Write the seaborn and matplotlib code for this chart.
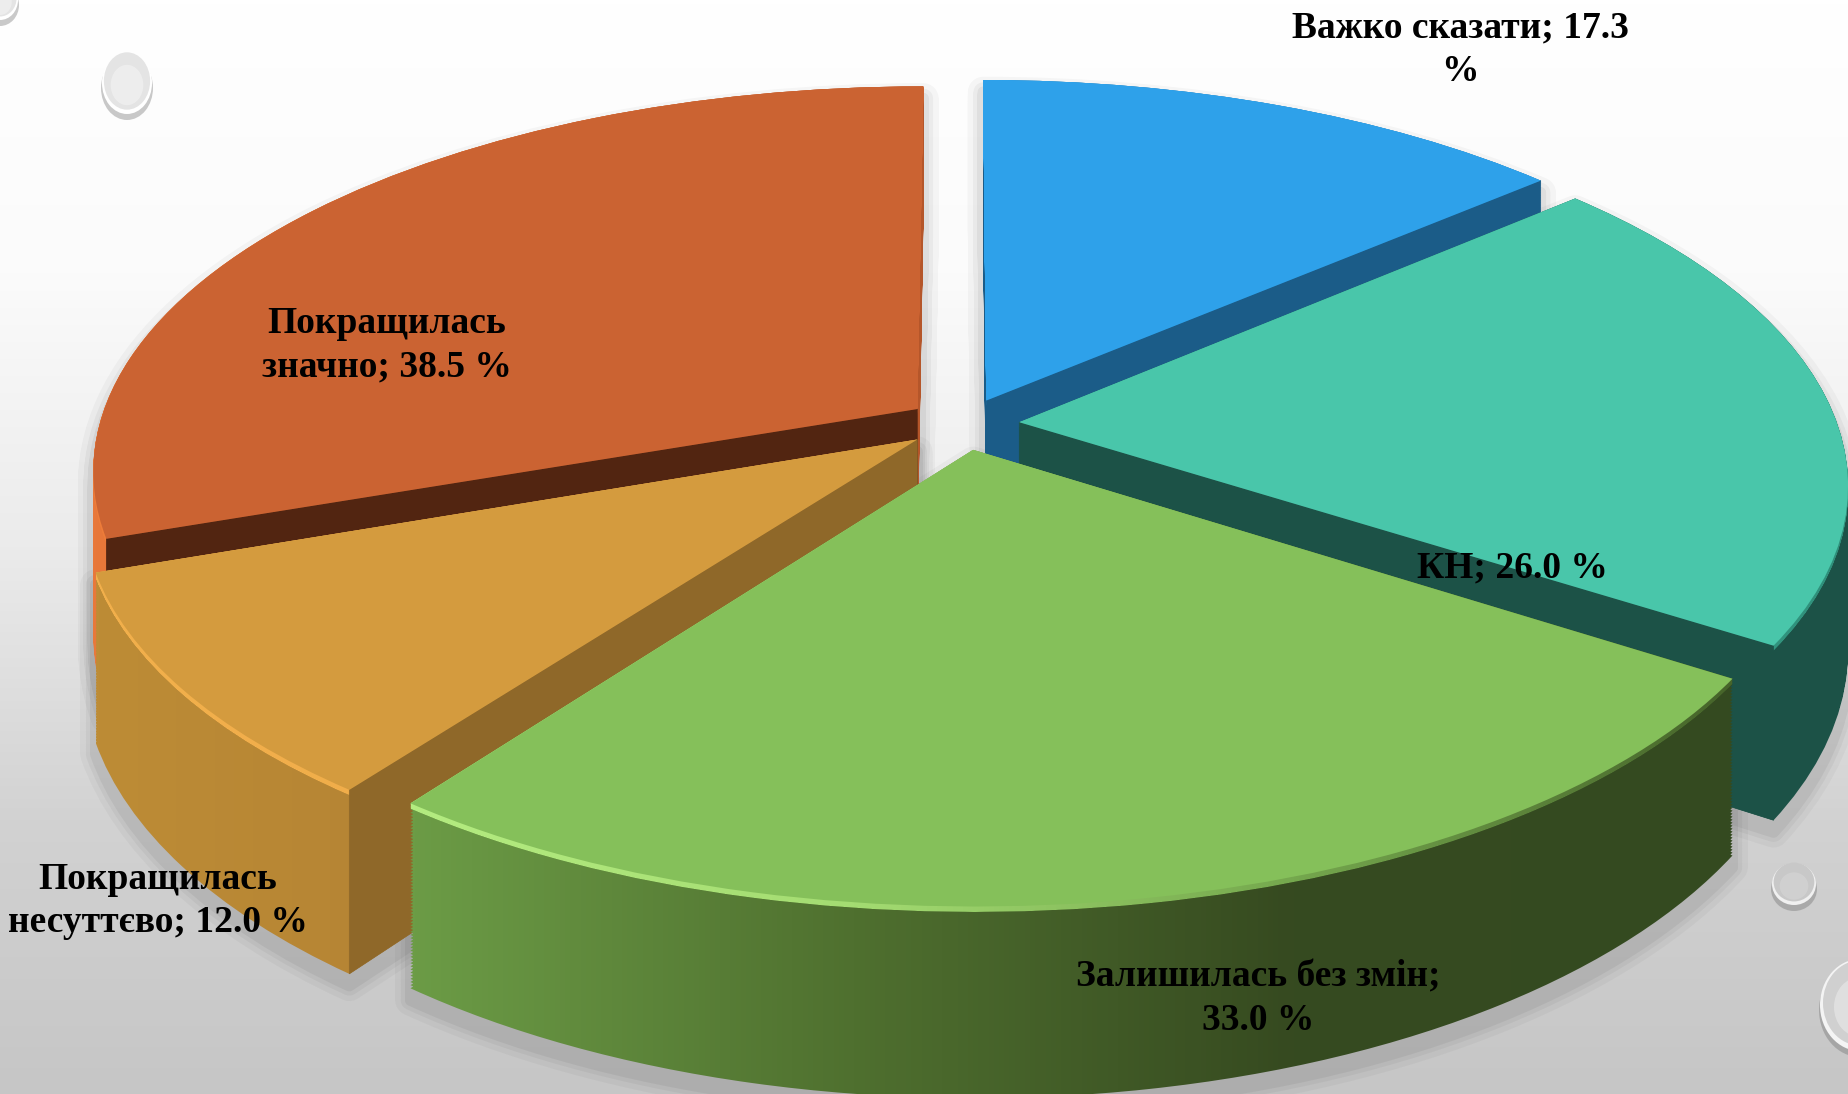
import numpy as np
import matplotlib
matplotlib.use("Agg")
import matplotlib.pyplot as plt
from matplotlib.patches import Ellipse, PathPatch, Polygon
from matplotlib.path import Path
from matplotlib.transforms import Transform, Affine2D
import seaborn as sns

labels = ["Важко сказати; 17.3\n%", "КН; 26.0 %", "Залишилась без змін;\n33.0 %",
          "Покращилась\nнесуттєво; 12.0 %", "Покращилась\nзначно; 38.5 %"]
values = [17.3, 26.0, 33.0, 12.0, 38.5]

top_colors = ["#2ea1ea", "#49c6aa", "#85c05a", "#d49b3e", "#cb6332"]
rim_colors = [["#1b5c88", "#1b5c88"], ["#1c5247", "#1c5247"],
              ["#6c9c46", "#4f702f", "#364a20", "#344a20"],
              ["#bd8c36", "#a87730"], ["#e8783a", "#b5562a"]]
bevel_colors = [["#2ea1ea", "#2ea1ea"], ["#49c6aa", "#2f8f7a"],
                ["#b4ec80", "#a4dc72", "#75a84e", "#46642a"],
                ["#f2b04c", "#eea948"], ["#ee7d3a", "#cb6332"]]
cut_colors = ["#1b5c88", "#1c5247", None, "#8f6829", "#522511"]
cut_edges = ["theta1", "theta1", None, "theta2", "theta2"]
draw_order = [0, 4, 1, 3, 2]

label_x = [1460, 1512, 1258, 158, 387]
label_y = [50, 568, 999, 901, 345]

W, H = 1849, 1094
CX, CY = 963, 424
A, B = 818, 377
K = 0.155
DEPTH = 160


class PlaneTransform(Transform):
    # pie plane -> picture pixels, with a bit of perspective
    input_dims = 2
    output_dims = 2

    def __init__(self, drop_by=0.0):
        super().__init__()
        self.drop_by = drop_by

    def transform_non_affine(self, values):
        values = np.asarray(values, dtype=float)
        x, y = values[:, 0], values[:, 1]
        w = 1 + K * y
        return np.column_stack([CX + A * x / w, CY + (self.drop_by * DEPTH - B * y) / w])


def band(path, d0, d1, n=60):
    parts = [PlaneTransform(d).transform_path(path) for d in np.linspace(d0, d1, n)]
    return Path.make_compound_path(*parts)


def gradient_fill(ax, path, colors, zorder):
    cmap = sns.blend_palette(colors, n_colors=256, as_cmap=True)
    box = path.get_extents()
    im = ax.imshow(np.linspace(0, 1, 256)[None, :], cmap=cmap, aspect="auto", zorder=zorder,
                   extent=(box.x0, box.x1, box.y1, box.y0))
    im.set_clip_path(PathPatch(path, transform=ax.transData))


def drop(ax, x, y, rx, ry, rim, body, glow):
    ax.add_patch(Ellipse((x, y + 5), 2 * rx + 2, 2 * ry + 2, color="#666666", alpha=0.35, lw=0, zorder=2))
    ax.add_patch(Ellipse((x, y), 2 * rx, 2 * ry, color=rim, lw=0, zorder=3))
    ax.add_patch(Ellipse((x, y - 2), 1.85 * rx, 1.85 * ry, color=body, lw=0, zorder=3))
    ax.add_patch(Ellipse((x, y + 2), 1.3 * rx, 1.3 * ry, color=glow, alpha=0.7, lw=0, zorder=3))


sns.set_theme(style="white")
plt.rcParams["font.family"] = ["Liberation Serif", "DejaVu Serif"]

fig = plt.figure(figsize=(W / 100, H / 100), dpi=100)
ax = fig.add_axes([0, 0, 1, 1])

bg = sns.blend_palette(["#ffffff", "#fbfbfb", "#ebebeb", "#d2d2d2", "#c6c6c6"], n_colors=256, as_cmap=True)
ax.imshow(np.linspace(0, 1, 256)[:, None], cmap=bg, aspect="auto", extent=(0, W, H, 0), zorder=0)

wedges, _ = ax.pie(values, colors=top_colors, startangle=90, counterclock=False,
                   explode=[0.069] * len(values), radius=1,
                   wedgeprops={"linewidth": 0, "edgecolor": "none"})

for rank, i in enumerate(draw_order):
    wedge = wedges[i]
    base = 10 + rank * 10
    path = wedge.get_path()
    side = band(path, 0, 1)

    # soft shadow under the block, below every slice
    for lw, alpha in zip([22, 14, 8], [0.03, 0.04, 0.05]):
        shifted = side.transformed(Affine2D().translate(0, 12))
        ax.add_patch(PathPatch(shifted, facecolor="none", edgecolor="black", lw=lw, alpha=alpha,
                               joinstyle="round", zorder=5))

    gradient_fill(ax, side, rim_colors[i], base + 1)
    gradient_fill(ax, band(path, 0, 0.028, n=8), bevel_colors[i], base + 2)

    if cut_edges[i]:
        theta = np.deg2rad(getattr(wedge, cut_edges[i]))
        c = np.array([wedge.center])
        e = c + [[np.cos(theta), np.sin(theta)]]
        top_t, low_t = PlaneTransform(0), PlaneTransform(1)
        quad = np.vstack([top_t.transform(c), top_t.transform(e), low_t.transform(e), low_t.transform(c)])
        ax.add_patch(Polygon(quad, closed=True, color=cut_colors[i], lw=0.5, zorder=base + 3))

    wedge.set_transform(PlaneTransform(0) + ax.transData)
    wedge.set_zorder(base + 4)

for text, x, y in zip(labels, label_x, label_y):
    ax.text(x, y, text, ha="center", va="center", fontsize=27, fontweight="bold",
            color="black", linespacing=1.3, zorder=100)

drop(ax, 127, 83, 25, 31, "#ffffff", "#e4e4e4", "#f2f2f2")
drop(ax, 1794, 884, 22, 21, "#f0f0f0", "#c8c8c8", "#d4d4d4")
drop(ax, 1860, 1005, 40, 46, "#f4f4f4", "#d0d0d0", "#e6e6e6")
drop(ax, 0, 0, 18, 20, "#ffffff", "#e4e4e4", "#f2f2f2")

ax.set_xlim(0, W)
ax.set_ylim(H, 0)
ax.set_aspect("auto")
ax.axis("off")
fig.savefig("out.png", dpi=100)
